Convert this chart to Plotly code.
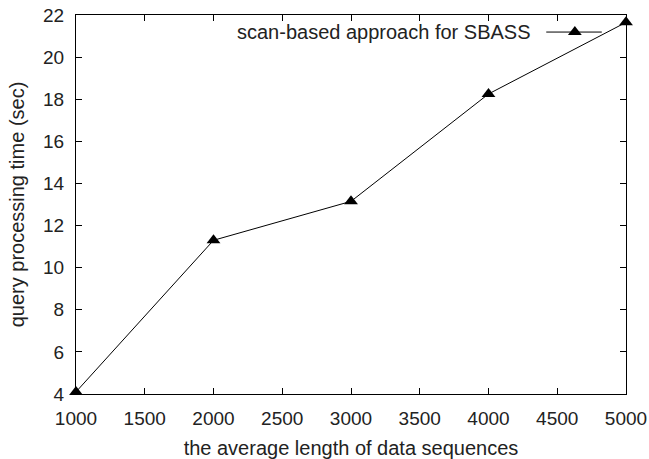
import plotly.graph_objects as go

lengths = [1000, 2000, 3000, 4000, 5000]
times = [4.1, 11.3, 13.15, 18.25, 21.65]
series_name = "scan-based approach for SBASS"
x_title = "the average length of data sequences"
y_title = "query processing time (sec)"

tick_font = dict(family="Liberation Sans, Arial, sans-serif", size=19, color="#222")
title_font = dict(family="Liberation Sans, Arial, sans-serif", size=20, color="#222")

fig = go.Figure()
fig.add_trace(go.Scatter(
    x=lengths, y=times, mode="lines+markers", name=series_name,
    line=dict(color="black", width=1),
    marker=dict(symbol="triangle-up", size=12, color="black"),
    showlegend=False, cliponaxis=False,
))
# legend sample on overlay axes (paper-like 0..1)
fig.add_trace(go.Scatter(
    x=[0.855, 0.956], y=[0.955, 0.955], xaxis="x2", yaxis="y2",
    mode="lines", line=dict(color="black", width=1), showlegend=False, hoverinfo="skip",
))
fig.add_trace(go.Scatter(
    x=[0.907], y=[0.955], xaxis="x2", yaxis="y2",
    mode="markers", marker=dict(symbol="triangle-up", size=12, color="black"),
    showlegend=False, hoverinfo="skip",
))

axis_common = dict(
    showline=True, linecolor="black", linewidth=1, mirror="ticks",
    ticks="inside", ticklen=6, tickcolor="black", showgrid=False, zeroline=False,
    tickfont=tick_font, automargin=False,
)
fig.update_layout(
    width=649, height=459,
    margin=dict(l=76, r=23, t=15, b=65),
    paper_bgcolor="white", plot_bgcolor="white",
    font=tick_font,
    xaxis=dict(range=[1000, 5000], dtick=500, ticklabelstandoff=7,
               title=dict(text=x_title, font=title_font, standoff=14), **axis_common),
    yaxis=dict(range=[4, 22], dtick=2, ticklabelstandoff=7,
               title=dict(text=y_title, font=title_font, standoff=13), **axis_common),
    xaxis2=dict(range=[0, 1], overlaying="x", visible=False, anchor="y2"),
    yaxis2=dict(range=[0, 1], overlaying="y", visible=False, anchor="x2"),
    annotations=[dict(
        text=series_name, xref="paper", yref="paper", x=0.831, y=0.955,
        xanchor="right", yanchor="middle", showarrow=False, font=title_font,
    )],
)
fig.write_html("out.html")
